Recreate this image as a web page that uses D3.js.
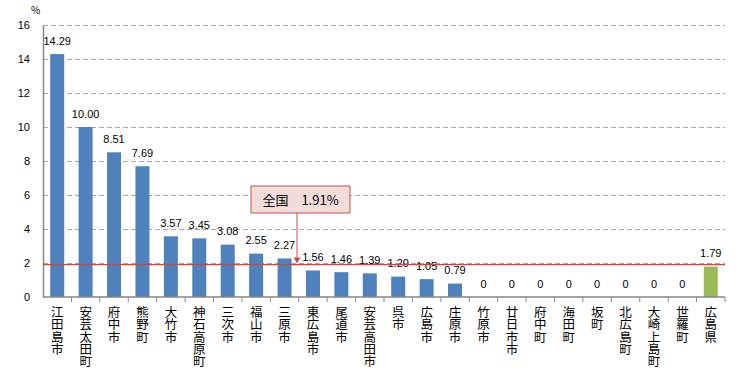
<!DOCTYPE html>
<html lang="ja">
<head>
<meta charset="UTF-8">
<title>chart</title>
<script src="https://d3js.org/d3.v7.min.js"></script>
<style>
  body { margin: 0; background: #fff; }
  text { font-family: "Noto Sans CJK JP", "Noto Sans", sans-serif; fill: #000; }
</style>
</head>
<body>
<div id="chart"></div>
<script>
// data
const categories = ["江田島市", "安芸太田町", "府中市", "熊野町", "大竹市", "神石高原町", "三次市", "福山市",
  "三原市", "東広島市", "尾道市", "安芸高田市", "呉市", "広島市", "庄原市", "竹原市", "廿日市市",
  "府中町", "海田町", "坂町", "北広島町", "大崎上島町", "世羅町", "広島県"];
const values = [14.29, 10.00, 8.51, 7.69, 3.57, 3.45, 3.08, 2.55, 2.27, 1.56, 1.46, 1.39, 1.20,
  1.05, 0.79, 0, 0, 0, 0, 0, 0, 0, 0, 1.79];
const yTicks = [0, 2, 4, 6, 8, 10, 12, 14, 16];
const nationalRate = 1.91;
const nationalLabel = "全国　1.91%";

const W = 756, H = 379;
const margin = { top: 25, right: 31, bottom: 82, left: 43 };
const width = W - margin.left - margin.right;
const height = H - margin.top - margin.bottom;

const svg = d3.select("#chart").append("svg")
  .attr("width", W).attr("height", H);
const g = svg.append("g")
  .attr("transform", "translate(" + margin.left + "," + margin.top + ")");

const xb = d3.scaleBand().domain(categories).range([0, width]);
const y = d3.scaleLinear().domain([0, 16]).range([height, 0]);
const cx = d => xb(d) + xb.bandwidth() / 2;

// grid
g.selectAll(".grid").data(yTicks.filter(d => d > 0)).enter().append("line")
  .attr("x1", 0).attr("x2", width)
  .attr("y1", d => y(d) + 0.5).attr("y2", d => y(d) + 0.5)
  .attr("stroke", "#a6a6a6").attr("stroke-dasharray", "5,3");

// y axis
const yAxis = g.append("g").call(d3.axisLeft(y).tickValues(yTicks).tickSize(0).tickPadding(13));
yAxis.select(".domain").attr("stroke", "#868686").attr("stroke-width", 1.5);
yAxis.selectAll("text").style("font-size", "11px").style("font-family", "Arial, 'Liberation Sans', sans-serif");

svg.append("text").attr("x", 31).attr("y", 14).style("font-size", "10px").text("%");

// bars
g.selectAll(".bar").data(values).enter().append("rect")
  .attr("x", (d, i) => cx(categories[i]) - 7)
  .attr("width", 14)
  .attr("y", d => y(d))
  .attr("height", d => height - y(d))
  .attr("fill", (d, i) => i === categories.length - 1 ? "#9bbb59" : "#4f81bd");

// value labels
g.selectAll(".val").data(values).enter().append("text")
  .attr("x", (d, i) => cx(categories[i]))
  .attr("y", d => y(d) - 9.5)
  .attr("text-anchor", "middle")
  .style("font-size", "11px")
  .style("font-family", "Arial, 'Liberation Sans', sans-serif")
  .text(d => d === 0 ? "0" : d.toFixed(2));

// national line
g.append("line")
  .attr("x1", 0).attr("x2", width)
  .attr("y1", y(nationalRate)).attr("y2", y(nationalRate))
  .attr("stroke", "#d9403c").attr("stroke-width", 1.2);

// x axis
g.append("line").attr("x1", 0).attr("x2", width).attr("y1", height).attr("y2", height)
  .attr("stroke", "#868686").attr("stroke-width", 1.5);
g.selectAll(".tick-x").data(categories.slice(1).concat(["end"])).enter().append("line")
  .attr("x1", (d, i) => i < categories.length - 1 ? xb(d) : width)
  .attr("x2", (d, i) => i < categories.length - 1 ? xb(d) : width)
  .attr("y1", height).attr("y2", height + 5)
  .attr("stroke", "#868686");

// vertical category labels
g.selectAll(".cat").data(categories).enter().append("text")
  .attr("x", d => cx(d))
  .attr("y", height + 9)
  .style("writing-mode", "vertical-rl")
  .style("font-size", "12.5px")
  .style("letter-spacing", "-0.2px")
  .text(d => d);

// annotation
const bx = 251 - margin.left, by = 186 - margin.top, bw = 99, bh = 27;
const ax = 297 - margin.left;
g.append("line").attr("x1", ax).attr("x2", ax).attr("y1", by + bh).attr("y2", y(nationalRate) - 5)
  .attr("stroke", "#c0504d").attr("stroke-width", 1);
g.append("path")
  .attr("d", `M${ax - 3.5},${y(nationalRate) - 7} L${ax + 3.5},${y(nationalRate) - 7} L${ax},${y(nationalRate) - 1} Z`)
  .attr("fill", "#c0504d");
g.append("rect").attr("x", bx).attr("y", by).attr("width", bw).attr("height", bh)
  .attr("fill", "#f2dcdb").attr("stroke", "#c0504d").attr("stroke-width", 1);
g.append("text").attr("x", bx + bw / 2).attr("y", by + 19)
  .attr("text-anchor", "middle").style("font-size", "13px").text(nationalLabel);
</script>
</body>
</html>
